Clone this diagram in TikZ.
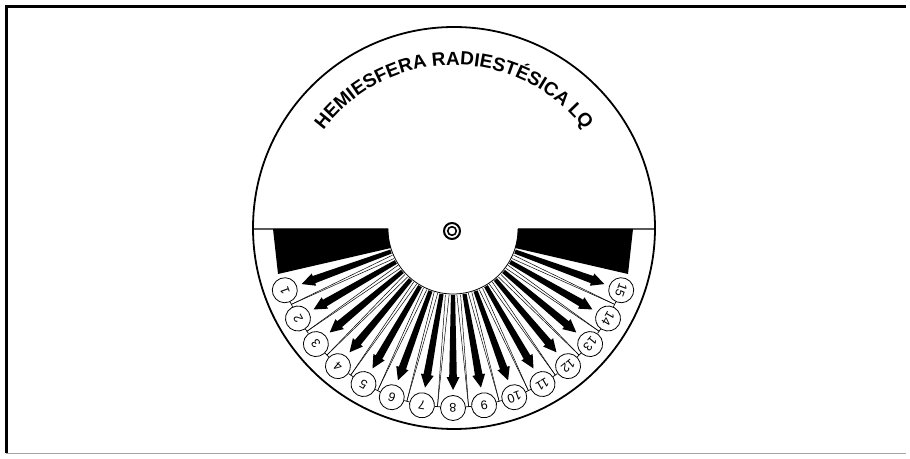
\documentclass[tikz,border=0pt]{standalone}
\usepackage{fontspec}
\setmainfont{Liberation Sans}
\newfontfamily\titlefont{Liberation Sans}
\usetikzlibrary{calc,decorations.text}
\begin{document}
\begin{tikzpicture}[x=1pt,y=1pt,
  numcirc/.style={circle, draw, line width=0.8pt, fill=white, minimum size=25pt, inner sep=0pt, font=\fontsize{12.5}{12.5}\selectfont},
  thinline/.style={line width=0.5pt},
  linkline/.style={line width=0.7pt},
  blackblock/.style={fill=black},
  arrowshape/.style={fill=black}]
\useasboundingbox (0,0) rectangle (910,458);
\fill[white] (0,0) rectangle (910,458);
% frame
\draw[line width=3pt] (6,5) -- (6,451) -- (906,451);
\draw[line width=1pt, black!35] (6,5) -- (906,5);
\coordinate (C) at (454,230);
\coordinate (H) at (453,229);
% black blocks
\fill[blackblock] (273,229) -- (388,229) arc[start angle=180, end angle=197, radius=65] -- (278,184) -- cycle;
\fill[blackblock] (633,229) -- (518,229) arc[start angle=0, end angle=-17, radius=65] -- (628,184) -- cycle;
% diameter line pieces
\coordinate (dl) at ($(C)+(180.3:201)$);
\coordinate (dr) at ($(C)+(-0.3:201)$);
\coordinate (hl) at ($(H)+(180:65)$);
\coordinate (hr) at ($(H)+(0:65)$);
\draw[line width=1.3pt] (dl) -- (hl);
\draw[line width=1.3pt] (hr) -- (dr);
% hub arc
\draw[line width=0.8pt] (hl) arc[start angle=180, end angle=360, radius=65];
% outer circle
\draw[line width=1.8pt] (C) circle (201);
% arrows
\foreach \i in {1,...,15}{
  \pgfmathsetmacro{\ang}{190+10*\i}
  \begin{scope}[shift={(H)}, rotate=\ang]
    \fill[arrowshape] (66,-2.1) -- (148,-3.8) -- (148,-6.5) -- (161,0) -- (148,6.5) -- (148,3.8) -- (66,2.1) -- cycle;
  \end{scope}
}
% number circles
\foreach \i in {1,...,15}{
  \pgfmathsetmacro{\ang}{190+10*\i}
  \pgfmathsetmacro{\rot}{\ang-90}
  \node[numcirc, rotate=\rot] (n\i) at ($(H)+(\ang:179)$) {\i};
}
% links and thin lines
\foreach \i in {1,...,14}{
  \pgfmathtruncatemacro{\j}{\i+1}
  \pgfmathsetmacro{\phia}{195+10*\i-1.6}
  \pgfmathsetmacro{\phib}{195+10*\i+1.6}
  \draw[linkline] (n\i) -- (n\j);
  \coordinate (j\i) at ($(n\i)!0.5!(n\j)$);
  \coordinate (ha\i) at ($(H)+(\phia:66)$);
  \coordinate (hb\i) at ($(H)+(\phib:66)$);
  \draw[thinline] (j\i) -- (ha\i);
  \draw[thinline] (j\i) -- (hb\i);
}
% centre target
\draw[line width=2pt] (452,227) circle (8);
\draw[line width=1.6pt] (452,227) circle (4.3);
% title
\path[decorate, decoration={text along path, text={|\titlefont\bfseries\fontsize{19}{19}\selectfont|HEMIESFERA RADIESTÉSICA LQ}, text align=center}] ($(C)+(150:163)$) arc[start angle=150, end angle=30, radius=163];
\end{tikzpicture}
\end{document}
